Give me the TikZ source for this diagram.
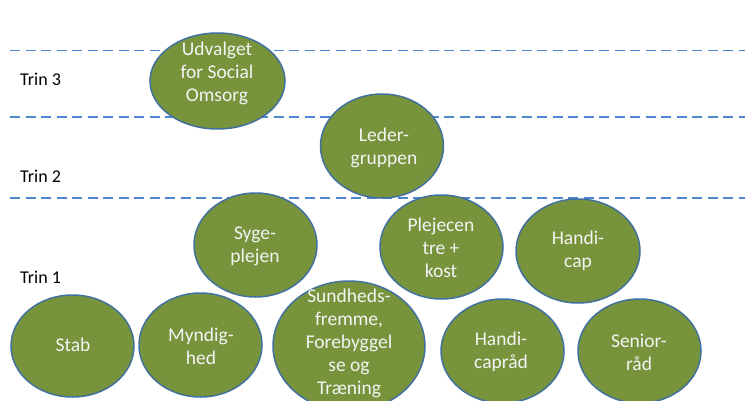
\documentclass[tikz,border=0pt]{standalone}
\usepackage{fontspec}
\setmainfont{Carlito}
\usetikzlibrary{shapes.geometric}
\definecolor{olivefill}{HTML}{77933C}
\definecolor{blobline}{HTML}{41719C}
\definecolor{dashblue}{HTML}{4F86D0}
\definecolor{txtwhite}{HTML}{F4F4F4}
\tikzset{
  blob/.style={ellipse, draw=blobline, line width=1.5pt, fill=olivefill, inner sep=0pt,
               minimum width=123pt, minimum height=104pt},
  blobtext/.style={text=txtwhite, align=center, inner sep=0pt,
               font=\fontsize{19.5}{23}\selectfont},
  trin/.style={anchor=west, inner sep=0pt, font=\fontsize{18}{22}\selectfont},
  levelline/.style={draw=dashblue, line width=1.8pt, dash pattern=on 10pt off 5.5pt}
}
\begin{document}
\begin{tikzpicture}[x=1pt, y=-1pt]
\useasboundingbox (0,0) rectangle (747,401);
% level lines
\coordinate (l1a) at (10,50.5);  \coordinate (l1b) at (745,50.5);
\coordinate (l2a) at (10,117);   \coordinate (l2b) at (745,117);
\coordinate (l3a) at (10,198);   \coordinate (l3b) at (745,198);
\draw[levelline] (l1a) -- (l1b);
\draw[levelline] (l2a) -- (l2b);
\draw[levelline] (l3a) -- (l3b);
% labels
\node[trin] (t3) at (20,79) {Trin 3};
\node[trin] (t2) at (20,176) {Trin 2};
\node[trin] (t1) at (20,277) {Trin 1};
% ellipses
\node[blob, minimum width=135pt, minimum height=96pt] (udv) at (217.5,81) {};
\node[blob, minimum height=104pt] (led) at (382,146) {};
\node[blob] (syg) at (255.5,245) {};
\node[blob] (plc) at (441.5,247) {};
\node[blob, minimum width=124pt] (hcp) at (578,251) {};
\node[blob, minimum height=102pt] (stab) at (72.5,346) {};
\node[blob] (myn) at (200.5,345) {};
\node[blob, minimum width=152pt, minimum height=130pt] (sun) at (349,346) {};
\node[blob] (hcr) at (502.5,351) {};
\node[blob] (sen) at (639.5,351) {};
% texts
\node[blobtext] (udvT) at (217,73) {Udvalget\\for Social\\Omsorg};
\node[blobtext] (ledT) at (384,148) {Leder-\\gruppen};
\node[blobtext] (sygT) at (255,246) {Syge-\\plejen};
\node[blobtext] (plcT) at (441,248) {Plejecen\\tre +\\kost};
\node[blobtext] (hcpT) at (578,251) {Handi-\\cap};
\node[blobtext] (stabT) at (73,345) {Stab};
\node[blobtext] (mynT) at (201,346) {Myndig-\\hed};
\node[blobtext] (sunT) at (349,343) {Sundheds-\\fremme,\\Forebyggel\\se og\\Træning};
\node[blobtext] (hcrT) at (501,352) {Handi-\\capråd};
\node[blobtext] (senT) at (639,352) {Senior-\\råd};
\end{tikzpicture}
\end{document}
